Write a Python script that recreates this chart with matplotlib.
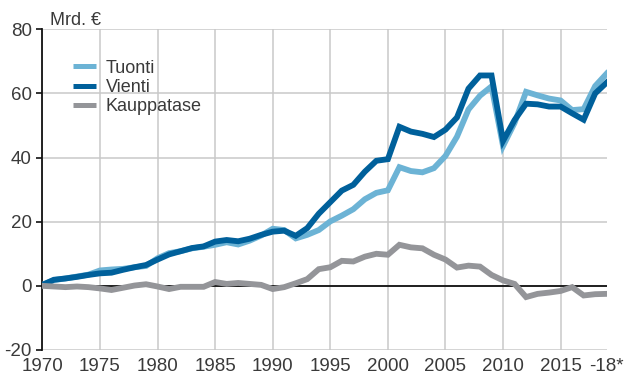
import numpy as np
import matplotlib
matplotlib.use("Agg")
import matplotlib.pyplot as plt

plt.rcParams['font.family'] = ['Liberation Sans', 'DejaVu Sans']
plt.rcParams['axes.unicode_minus'] = False

# Finnish foreign trade, billion euros, 1970 - 2018*
years = np.arange(1970, 2020)
tuonti = [0.3, 1.8, 2.3, 2.9, 3.5, 4.8, 5.1, 5.3, 5.8, 6.2,
          8.6, 10.2, 10.8, 11.7, 12.2, 12.8, 13.6, 12.9, 14.1, 15.7,
          17.8, 17.4, 14.8, 15.9, 17.4, 20.1, 21.9, 23.9, 27.0, 29.0,
          29.8, 37.0, 35.8, 35.4, 36.7, 40.5, 46.5, 55.0, 59.3, 62.2,
          43.6, 50.8, 60.5, 59.4, 58.4, 57.8, 54.8, 55.1, 62.3, 66.2]
vienti = [0.3, 1.9, 2.3, 2.8, 3.4, 3.9, 4.1, 5.0, 5.8, 6.5,
          8.2, 9.8, 10.8, 11.8, 12.3, 13.8, 14.3, 13.9, 14.7, 15.9,
          16.9, 17.2, 15.6, 18.0, 22.5, 26.1, 29.7, 31.5, 35.6, 39.0,
          39.5, 49.6, 48.1, 47.4, 46.4, 48.7, 52.5, 61.5, 65.6, 65.6,
          45.2, 51.7, 56.8, 56.6, 55.9, 55.9, 53.8, 51.8, 60.0, 63.4]
kauppatase = [0.0, -0.2, -0.4, -0.2, -0.4, -0.8, -1.3, -0.6, 0.1, 0.5,
              -0.2, -1.0, -0.3, -0.3, -0.3, 1.2, 0.6, 0.9, 0.6, 0.3,
              -1.0, -0.4, 0.8, 2.1, 5.2, 5.8, 7.8, 7.6, 9.1, 10.0,
              9.7, 12.8, 12.0, 11.7, 9.7, 8.2, 5.7, 6.3, 6.0, 3.4,
              1.7, 0.6, -3.5, -2.5, -2.1, -1.6, -0.4, -3.0, -2.6, -2.5]

major_ticks = [1970, 1975, 1980, 1985, 1990, 1995, 2000, 2005, 2010, 2015]
major_labels = ['1970', '1975', '1980', '1985', '1990', '1995', '2000', '2005', '2010', '2015']
last_label = '-18*'
y_ticks = [-20, 0, 20, 40, 60, 80]

c_tuonti = '#6cb3d5'
c_vienti = '#00609b'
c_kauppa = '#949599'
txt = '#3a3a3a'
grid_c = '#c9c9c9'

fig = plt.figure(figsize=(6.27, 3.75), dpi=100)
ax = fig.add_axes([0.0676, 0.0667, 0.9, 0.8552])

ax.plot(years, tuonti, color=c_tuonti, lw=4.2, label='Tuonti', solid_joinstyle='miter', zorder=3)
ax.plot(years, vienti, color=c_vienti, lw=4.2, label='Vienti', solid_joinstyle='miter', zorder=4)
ax.plot(years, kauppatase, color=c_kauppa, lw=4.2, label='Kauppatase', solid_joinstyle='miter', zorder=5)

ax.axhline(0, color='#111111', lw=1.3, zorder=2)

ax.set_xlim(years[0], years[-1])
ax.set_ylim(-20, 80)

ax.set_xticks(major_ticks)
ax.set_xticklabels(major_labels)
ax.set_xticks([years[-1]], minor=True)
ax.set_xticklabels([last_label], minor=True)
ax.set_yticks(y_ticks)

ax.tick_params(axis='x', which='both', length=0, pad=6, labelsize=13.5, labelcolor=txt)
ax.tick_params(axis='y', length=4.5, width=1.2, color='#111111', pad=3, labelsize=13.5, labelcolor=txt)

ax.grid(True, which='major', color=grid_c, lw=1.1, zorder=0)
ax.set_axisbelow(True)

for s in ['top', 'right', 'bottom']:
    ax.spines[s].set_visible(False)
ax.spines['left'].set_color('#111111')
ax.spines['left'].set_linewidth(1.3)

ax.text(0.014, 1.0, 'Mrd. €', transform=ax.transAxes, fontsize=13, color=txt,
        ha='left', va='bottom')

leg = ax.legend(loc='upper left', bbox_to_anchor=(0.055, 0.905), frameon=False,
                fontsize=13, handlelength=1.25, handletextpad=0.55,
                labelspacing=0.12, borderpad=0, borderaxespad=0)
for h in leg.get_lines():
    h.set_linewidth(3.6)
    h.set_solid_capstyle('butt')
for t in leg.get_texts():
    t.set_color(txt)

fig.savefig('out.png', dpi=100)
